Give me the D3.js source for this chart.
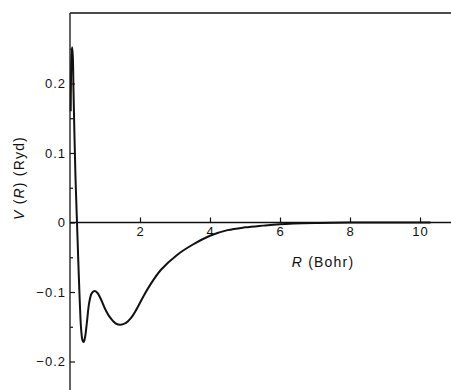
<!DOCTYPE html>
<html>
<head>
<meta charset="utf-8">
<script src="https://cdn.jsdelivr.net/npm/d3@7"></script>
<style>
  body { margin: 0; background: #fff; }
  svg { display: block; }
  .tick text { font-family: "Liberation Sans", Arial, sans-serif; font-size: 13px; fill: #111; letter-spacing: 1px; }
  .lbl { font-family: "Liberation Sans", Arial, sans-serif; font-size: 14px; fill: #111; letter-spacing: 1.2px; }
</style>
</head>
<body>
<svg id="chart" width="451" height="390"></svg>
<script>
// potential curve: R in Bohr, V in Rydberg
var rBohr = [0.02, 0.04, 0.06, 0.08, 0.10, 0.13, 0.16, 0.20, 0.24, 0.28, 0.32, 0.36, 0.39,
             0.43, 0.48, 0.55, 0.62, 0.70, 0.78, 0.88, 1.00, 1.15, 1.30, 1.45, 1.60, 1.75,
             1.90, 2.10, 2.30, 2.60, 3.05, 3.50, 4.00, 4.50, 5.00, 5.50, 6.00, 7.00, 8.00, 9.00, 10.3];
var vRyd = [0.16, 0.235, 0.252, 0.24, 0.19, 0.12, 0.06, 0.0, -0.06, -0.115, -0.155, -0.17, -0.172,
            -0.165, -0.145, -0.115, -0.102, -0.0985, -0.101, -0.11, -0.124, -0.137, -0.145, -0.147, -0.1445, -0.137,
            -0.125, -0.106, -0.089, -0.068, -0.047, -0.032, -0.019, -0.011, -0.007, -0.0045, -0.0025, -0.0008, 0, 0, 0];

var xTicks = [2, 4, 6, 8, 10];
var yTicks = [-0.2, -0.1, 0, 0.1, 0.2];
var yMinor = [-0.15, -0.05, 0.05, 0.15, 0.25];

var svg = d3.select('#chart');

var x = d3.scaleLinear().domain([0, 10]).range([70, 420]);
var y = d3.scaleLinear().domain([0, 0.2]).range([222.5, 83.5]);

var fmtY = function (d) {
    if (d === 0) return '0';
    return (d < 0 ? '\u2212' : '') + Math.abs(d).toFixed(1);
};

// frame: left axis, top border, zero line
svg.append('line').attr('x1', 70).attr('x2', 70).attr('y1', 13).attr('y2', 390)
    .attr('stroke', '#111').attr('stroke-width', 1.3);
svg.append('line').attr('x1', 70).attr('x2', 451).attr('y1', 13).attr('y2', 13)
    .attr('stroke', '#111').attr('stroke-width', 1.3);
svg.append('line').attr('x1', 70).attr('x2', 451).attr('y1', y(0)).attr('y2', y(0))
    .attr('stroke', '#111').attr('stroke-width', 1.3);

var yAxis = svg.append('g')
    .attr('transform', 'translate(70,0)')
    .call(d3.axisLeft(y).tickValues(yTicks).tickSize(-5).tickPadding(4).tickFormat(fmtY));
yAxis.select('.domain').remove();

var yAxisMinor = svg.append('g')
    .attr('transform', 'translate(70,0)')
    .call(d3.axisLeft(y).tickValues(yMinor).tickSize(-3).tickFormat(''));
yAxisMinor.select('.domain').remove();

var xAxis = svg.append('g')
    .attr('transform', 'translate(0,' + y(0) + ')')
    .call(d3.axisBottom(x).tickValues(xTicks).tickSize(-5).tickPadding(4).tickFormat(d3.format('d')));
xAxis.select('.domain').remove();

svg.selectAll('.tick line').attr('stroke', '#111').attr('stroke-width', 1.2);

// curve
var pts = rBohr.map(function (r, i) { return [r, vRyd[i]]; });
var line = d3.line()
    .x(function (d) { return x(d[0]); })
    .y(function (d) { return y(d[1]); })
    .curve(d3.curveCatmullRom.alpha(0.5));

svg.append('path')
    .datum(pts)
    .attr('d', line)
    .attr('fill', 'none')
    .attr('stroke', '#111')
    .attr('stroke-width', 2);

// axis titles
var xt = svg.append('text').attr('class', 'lbl')
    .attr('x', 323).attr('y', 267).attr('text-anchor', 'middle');
xt.append('tspan').attr('font-style', 'italic').text('R');
xt.append('tspan').text(' (Bohr)');

var yt = svg.append('text').attr('class', 'lbl')
    .attr('transform', 'translate(24,178) rotate(-90)')
    .attr('text-anchor', 'middle');
yt.append('tspan').attr('font-style', 'italic').text('V');
yt.append('tspan').text(' (');
yt.append('tspan').attr('font-style', 'italic').text('R');
yt.append('tspan').text(') (Ryd)');
</script>
</body>
</html>
